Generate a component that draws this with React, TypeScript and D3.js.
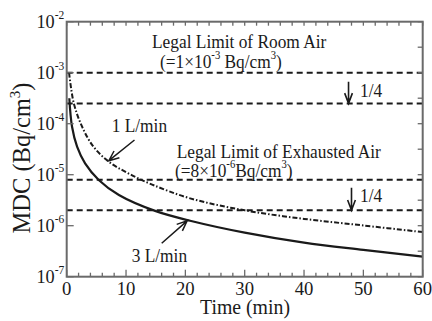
import React from "react";
import * as d3 from "d3";

// ---- data ----
const times1Lmin = [0.4, 1.2, 2.6, 4.5, 7.1, 10.4, 14.4, 20.8, 30, 40, 50, 60];
const mdc1Lmin = [1.0e-3, 2.5e-4, 8.7e-5, 3.55e-5, 1.8e-5, 1.06e-5, 6.4e-6, 3.44e-6, 2.0e-6, 1.36e-6, 1.01e-6, 7.5e-7];
const times3Lmin = [0.44, 0.9, 1.75, 3.1, 5.4, 8.8, 14.9, 20.8, 30, 40, 50, 60];
const mdc3Lmin = [3.15e-4, 8.7e-5, 3.55e-5, 1.67e-5, 7.9e-6, 4.0e-6, 1.95e-6, 1.25e-6, 7.3e-7, 4.65e-7, 3.35e-7, 2.47e-7];
const limitLevels = [1e-3, 2.5e-4, 8e-6, 2e-6];
const xTickValues = [0, 10, 20, 30, 40, 50, 60];
const yTickExponents = [-2, -3, -4, -5, -6, -7];

const W = 432;
const H = 321;
const FONT = "'Liberation Serif', 'Times New Roman', serif";
const INK = "#1a1a1a";
const FRAME = "#6a6a6a";

const x = d3.scaleLinear().domain([0, 60]).range([66.7, 422.7]);
const y = d3.scaleLog().domain([1e-7, 1e-2]).range([276.7, 21.7]);

function T({ x: tx, y: ty, size, sx = 1, anchor = "start", rotate = 0, children }: any) {
  return (
    <text
      transform={`translate(${tx},${ty}) rotate(${rotate}) scale(${sx},1)`}
      fontSize={size}
      fontFamily={FONT}
      textAnchor={anchor}
      fill={INK}
    >
      {children}
    </text>
  );
}

function arrowPath(x1: number, y1: number, x2: number, y2: number, len = 10, half = 0.42) {
  const a = Math.atan2(y2 - y1, x2 - x1);
  const l1x = x2 - len * Math.cos(a - half);
  const l1y = y2 - len * Math.sin(a - half);
  const l2x = x2 - len * Math.cos(a + half);
  const l2y = y2 - len * Math.sin(a + half);
  return `M${x1},${y1}L${x2},${y2}M${l1x},${l1y}L${x2},${y2}L${l2x},${l2y}`;
}

export default function App() {
  const line = d3
    .line<[number, number]>()
    .x((d) => x(d[0]))
    .y((d) => y(d[1]))
    .curve(d3.curveCatmullRom.alpha(0.5));
  const d1 = line(times1Lmin.map((t, i) => [t, mdc1Lmin[i]]))!;
  const d3p = line(times3Lmin.map((t, i) => [t, mdc3Lmin[i]]))!;

  const [x0, x1] = x.range();
  const [yb, yt] = y.range();

  const minorX = d3.range(0, 61, 2);
  const rightTicks: number[] = [];
  for (let e = -7; e <= -2; e++) {
    rightTicks.push(Math.pow(10, e));
    if (e < -2) rightTicks.push(Math.pow(10, e + 0.5));
  }

  const arrUpX = x(47.5);
  const arrLoX = x(48);

  return (
    <svg
      width={W}
      height={H}
      style={{ position: "absolute", left: 0, top: 0, background: "#fff" }}
    >
      <rect x={0} y={0} width={W} height={H} fill="#fff" />

      {limitLevels.map((v, i) => (
        <line
          key={"lim" + i}
          x1={x0}
          x2={x1}
          y1={y(v)}
          y2={y(v)}
          stroke={INK}
          strokeWidth={2}
          strokeDasharray="6,4"
        />
      ))}

      <path d={d1} fill="none" stroke={INK} strokeWidth={2} strokeDasharray="5,2,1.5,2" />
      <path d={d3p} fill="none" stroke={INK} strokeWidth={2.2} />

      <rect x={x0} y={yt} width={x1 - x0} height={yb - yt} fill="none" stroke={FRAME} strokeWidth={2} />

      {minorX.map((t) => (
        <g key={"xt" + t}>
          <line x1={x(t)} x2={x(t)} y1={yb} y2={yb - (t % 10 === 0 ? 7 : 4)} stroke={FRAME} strokeWidth={1.3} />
          <line x1={x(t)} x2={x(t)} y1={yt} y2={yt + 4} stroke={FRAME} strokeWidth={1.3} />
        </g>
      ))}
      {yTickExponents.map((e) => (
        <line key={"yl" + e} x1={x0} x2={x0 + 7} y1={y(Math.pow(10, e))} y2={y(Math.pow(10, e))} stroke={FRAME} strokeWidth={1.3} />
      ))}
      {rightTicks.map((v, i) => (
        <line key={"yr" + i} x1={x1} x2={x1 - 5} y1={y(v)} y2={y(v)} stroke={FRAME} strokeWidth={1.3} />
      ))}

      {xTickValues.map((t) => (
        <T key={"xl" + t} x={x(t)} y={295} size={19.5} sx={0.96} anchor="middle">
          {String(t)}
        </T>
      ))}
      {yTickExponents.map((e) => (
        <T key={"ylab" + e} x={36.5} y={y(Math.pow(10, e)) + 6.5} size={19} sx={0.96}>
          10
          <tspan fontSize={12} dy={-9}>
            {"-" + Math.abs(e)}
          </tspan>
        </T>
      ))}

      <T x={245} y={314} size={22} sx={0.9} anchor="middle">
        Time (min)
      </T>
      <T x={30} y={158} size={24.5} sx={1} anchor="middle" rotate={-90}>
        MDC (Bq/cm
        <tspan fontSize={15} dy={-10}>3</tspan>
        <tspan dy={10}>)</tspan>
      </T>

      <T x={152} y={48.3} size={19.5} sx={0.89}>
        Legal Limit of Room Air
      </T>
      <T x={160} y={68.3} size={19.5} sx={0.89}>
        (=1×10
        <tspan fontSize={12} dy={-9}>-3</tspan>
        <tspan dy={9}> Bq/cm</tspan>
        <tspan fontSize={12} dy={-9}>3</tspan>
        <tspan dy={9}>)</tspan>
      </T>

      <T x={176.7} y={158.3} size={19.5} sx={0.89}>
        Legal Limit of Exhausted Air
      </T>
      <T x={175} y={176.7} size={19.5} sx={0.89}>
        (=8×10
        <tspan fontSize={12} dy={-9}>-6</tspan>
        <tspan dy={9}>Bq/cm</tspan>
        <tspan fontSize={12} dy={-9}>3</tspan>
        <tspan dy={9}>)</tspan>
      </T>

      <path d={arrowPath(arrUpX, y(1e-3) + 9, arrUpX, y(2.5e-4), 11, 0.36)} fill="none" stroke={INK} strokeWidth={1.6} />
      <T x={360} y={97} size={19.5} sx={0.89}>1/4</T>
      <path d={arrowPath(arrLoX, y(8e-6) + 8, arrLoX, y(2e-6), 11, 0.36)} fill="none" stroke={INK} strokeWidth={1.6} />
      <T x={360} y={201.7} size={19.5} sx={0.89}>1/4</T>

      <T x={111.7} y={131.7} size={19.5} sx={0.89}>1 L/min</T>
      <path d={arrowPath(134.5, 140, x(7.1), y(1.8e-5) - 1, 11, 0.4)} fill="none" stroke={INK} strokeWidth={1.5} />
      <T x={131.7} y={261.7} size={19.5} sx={0.89}>3 L/min</T>
      <path d={arrowPath(161.7, 243.3, x(20.3), y(1.3e-6) + 1, 11, 0.4)} fill="none" stroke={INK} strokeWidth={1.5} />
    </svg>
  );
}
